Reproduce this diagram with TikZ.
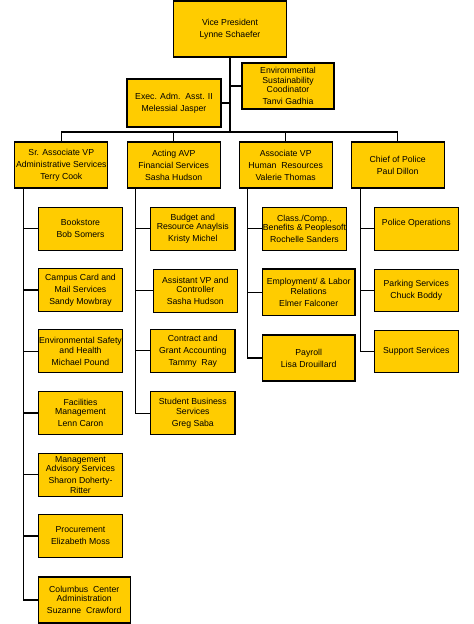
\documentclass[tikz,border=0pt]{standalone}
\usepackage{fontspec}
\setmainfont{Liberation Sans}
\definecolor{unitgold}{RGB}{255,204,0}
\tikzset{
  unit/.style={draw=black, line width=1.2pt, fill=unitgold, align=center, inner sep=0pt,
    minimum width=84.4pt, minimum height=43pt, font=\fontsize{8.7}{9.4}\selectfont},
  head/.style={unit, minimum width=93pt, minimum height=46pt},
  link/.style={line width=1.1pt, black}
}
\newcommand{\nm}{\\[2.6pt]}
\begin{document}
\begin{tikzpicture}[x=1pt, y=-1pt]
\useasboundingbox (0,0) rectangle (474,624);
% vice president and staff
\node[unit, minimum width=113pt, minimum height=56pt] (vp) at (230,29) {Vice President\nm Lynne Schaefer};
\node[unit, minimum width=92pt, minimum height=46pt] (envsus) at (288,86) {Environmental\\Sustainability\\Coodinator\nm Tanvi Gadhia};
\node[unit, minimum width=94pt, minimum height=48pt] (execasst) at (174,103) {Exec. Adm.\ \ Asst. II\nm Melessial Jasper};
\coordinate (bus) at (230,132);
\draw[link] (vp.south) -- (bus);
\draw[link] (envsus.west) -- (envsus.west -| vp.south);
\draw[link] (execasst.east) -- (execasst.east -| vp.south);
% heads
\node[head] (sradmin) at (61.3,165) {Sr. Associate VP\nm Administrative Services\nm Terry Cook};
\node[head] (actfin) at (173.7,165) {Acting AVP\nm Financial Services\nm Sasha Hudson};
\node[head] (assochr) at (285.7,165) {Associate VP\nm Human\ \ Resources\nm Valerie Thomas};
\node[head] (police) at (397.7,165) {Chief of Police\nm Paul Dillon};
\draw[link] (sradmin.north) |- (bus) -| (police.north);
\foreach \u in {actfin,assochr}
  \draw[link] (\u.north) -- (\u.north |- bus);
% administrative services
\node[unit] (book) at (80.5,228.7) {Bookstore\nm Bob Somers};
\node[unit] (card) at (80.5,290) {Campus Card and\nm Mail Services\nm Sandy Mowbray};
\node[unit] (ehs) at (80.5,351.3) {Environmental Safety\\and Health\nm Michael Pound};
\node[unit] (facil) at (80.5,413) {Facilities\\Management\nm Lenn Caron};
\node[unit] (mas) at (80.5,474.7) {Management\\Advisory Services\nm Sharon Doherty-\\Ritter};
\node[unit] (procure) at (80.5,536) {Procurement\nm Elizabeth Moss};
\node[unit, minimum width=92pt, minimum height=46pt] (ccc) at (84.2,600) {Columbus\ \ Center\\Administration\nm Suzanne\ \ Crawford};
\coordinate (adm-t) at ([xshift=9.3pt]sradmin.south west);
\draw[link] (adm-t) |- (ccc.west);
\foreach \c in {book,card,ehs,facil,mas,procure}
  \draw[link] (adm-t |- \c.west) -- (\c.west);
% financial services
\node[unit] (budget) at (192.8,228.7) {Budget and\\Resource Anaylsis\nm Kristy Michel};
\node[unit, minimum width=84pt] (ctrl) at (195.3,290.8) {Assistant VP and\\Controller\nm Sasha Hudson};
\node[unit] (contract) at (192.8,350.8) {Contract and\nm Grant Accounting\nm Tammy\ \ Ray};
\node[unit] (sbs) at (192.8,413.3) {Student Business\\Services\nm Greg Saba};
\coordinate (fin-t) at ([xshift=9pt]actfin.south west);
\draw[link] (fin-t) |- (sbs.west);
\foreach \c in {budget,ctrl,contract}
  \draw[link] (fin-t |- \c.west) -- (\c.west);
% human resources
\node[unit] (classcomp) at (304.5,228.7) {Class./Comp.,\\Benefits \& Peoplesoft\nm Rochelle Sanders};
\node[unit, minimum width=92.7pt, minimum height=46.7pt] (employ) at (308.7,292.3) {Employment/ \& Labor\\Relations\nm Elmer Falconer};
\node[unit, minimum width=92.7pt, minimum height=46pt] (payroll) at (308.7,358) {Payroll\nm Lisa Drouillard};
\coordinate (hr-t) at ([xshift=9.3pt]assochr.south west);
\draw[link] (hr-t) |- (payroll.west);
\foreach \c in {classcomp,employ}
  \draw[link] (hr-t |- \c.west) -- (\c.west);
% police
\node[unit, minimum width=84pt] (polops) at (416.3,228.7) {Police Operations\nm\mbox{}};
\node[unit, minimum width=84pt, minimum height=42pt] (parking) at (416.3,290.3) {Parking Services\nm Chuck Boddy};
\node[unit, minimum width=84pt, minimum height=42pt] (support) at (416.3,351.7) {Support Services};
\coordinate (pol-t) at ([xshift=9.7pt]police.south west);
\draw[link] (pol-t) |- (support.west);
\foreach \c in {polops,parking}
  \draw[link] (pol-t |- \c.west) -- (\c.west);
\end{tikzpicture}
\end{document}
